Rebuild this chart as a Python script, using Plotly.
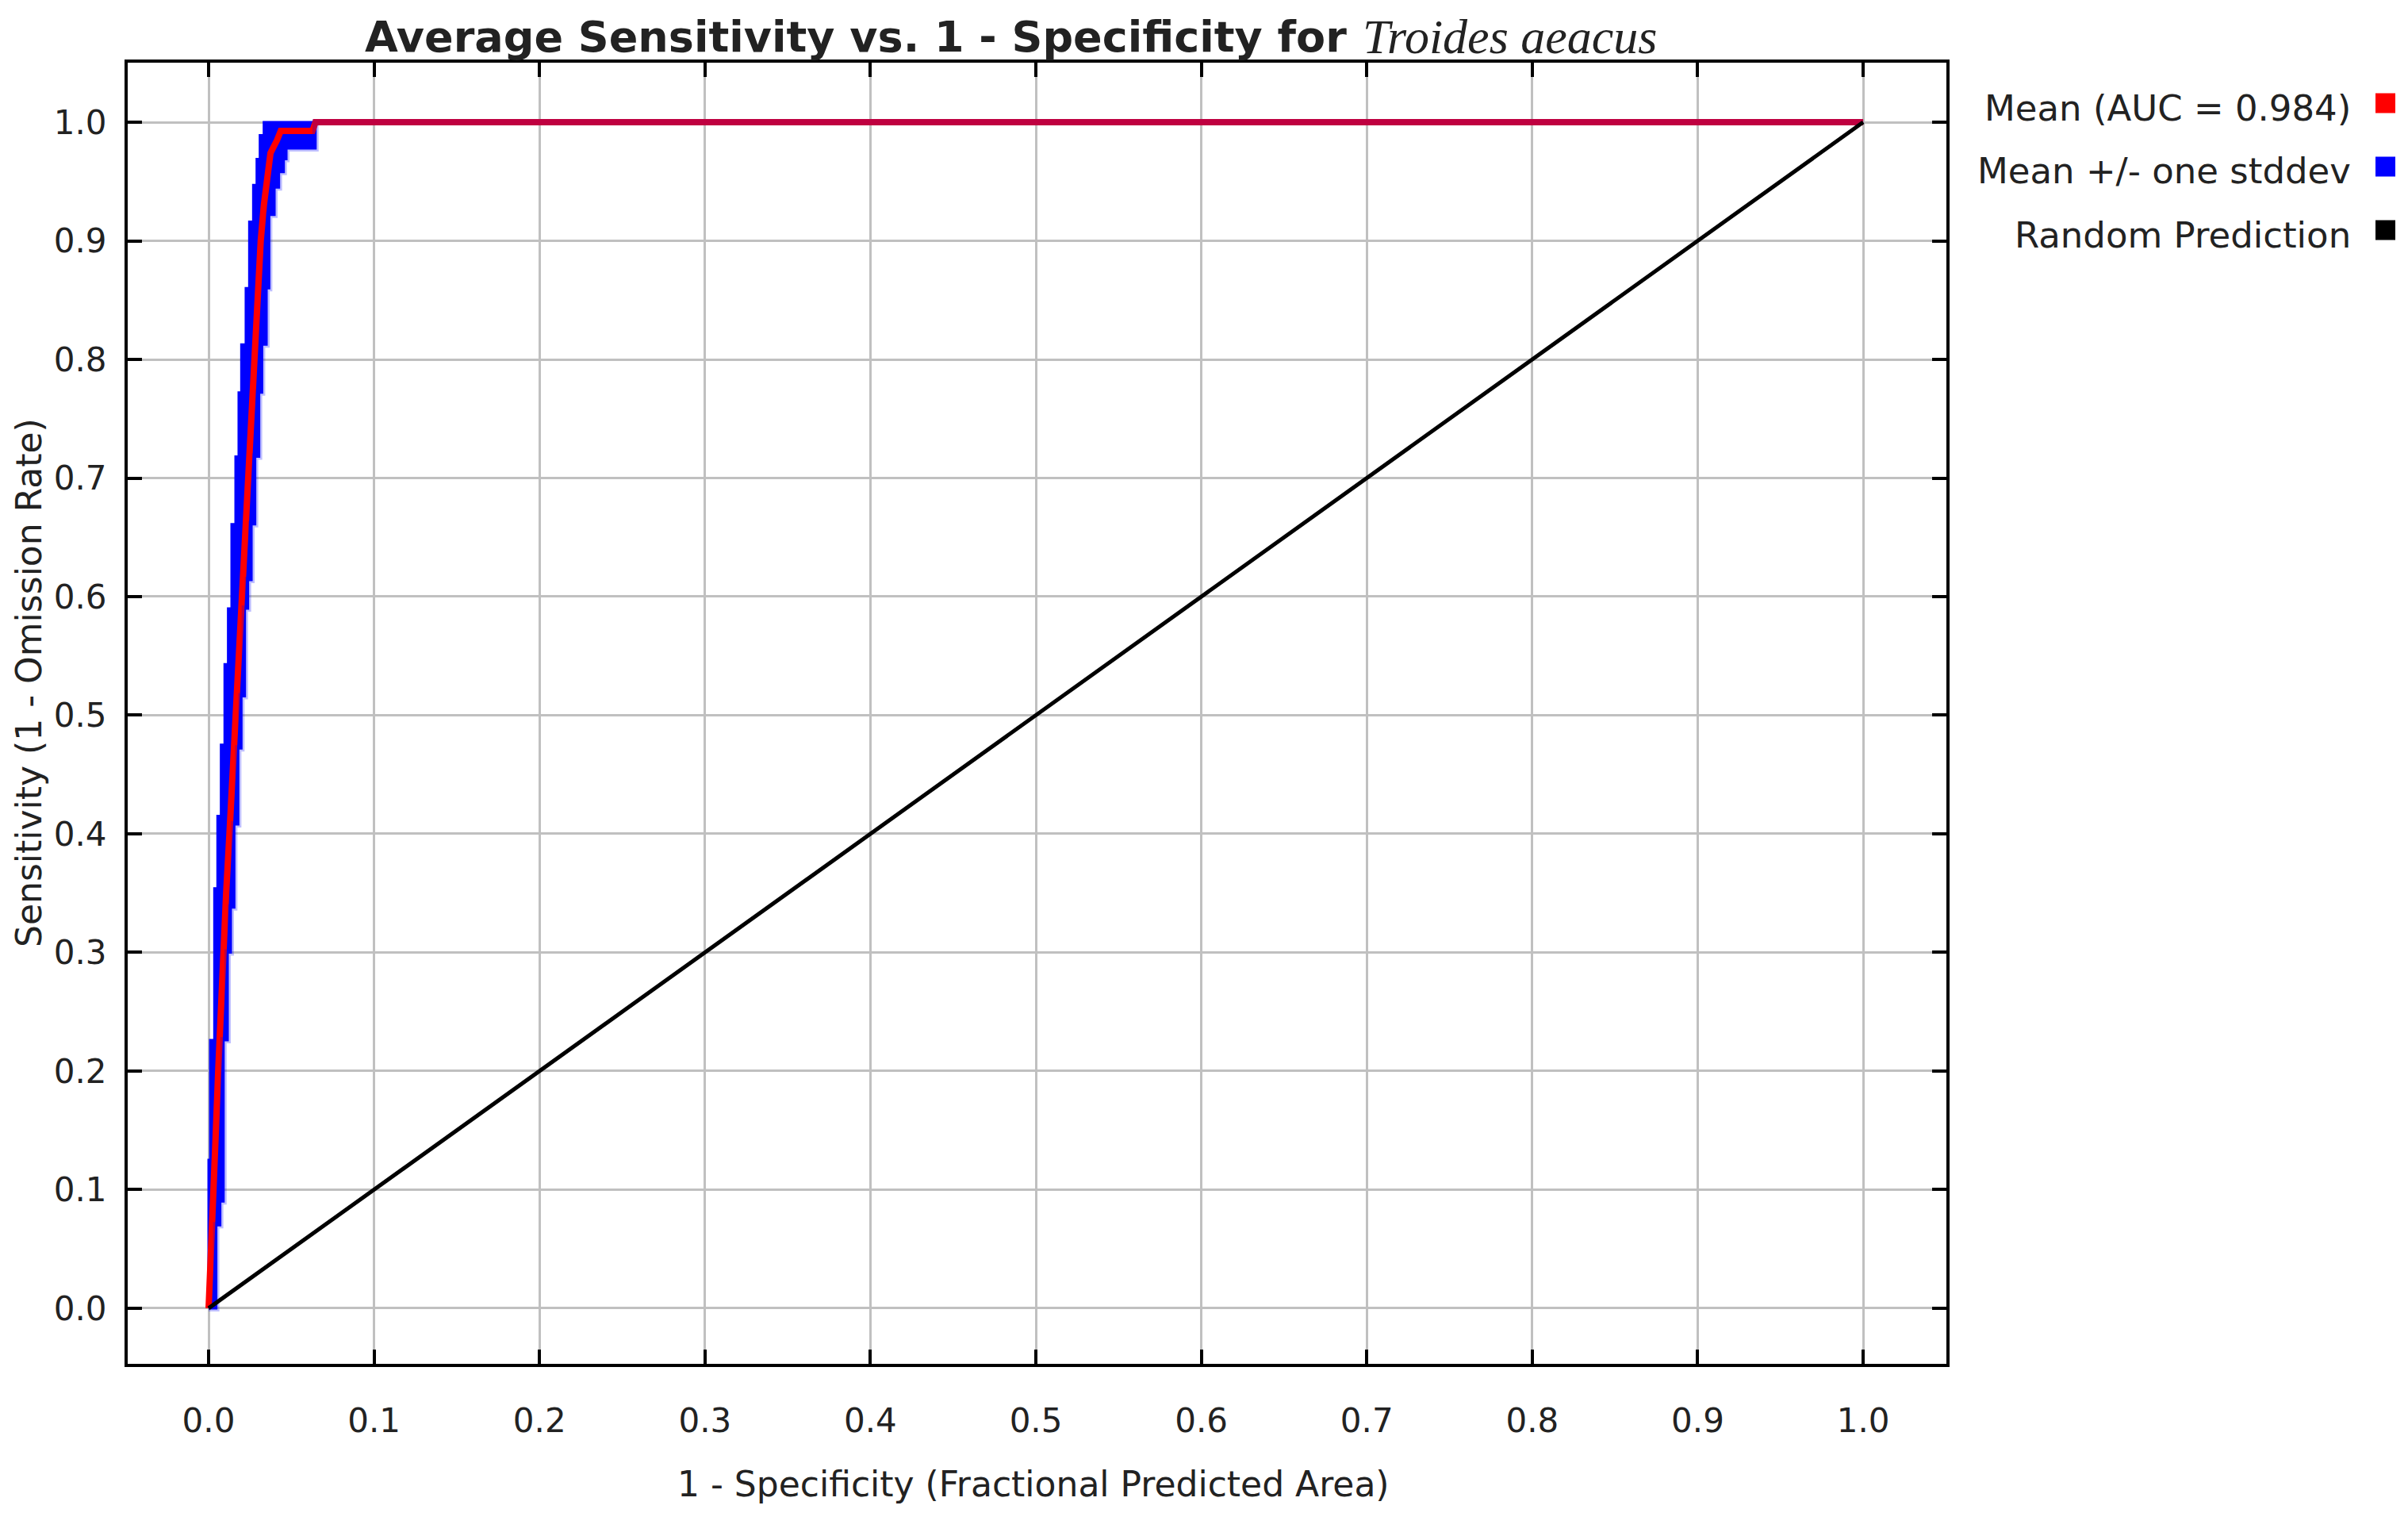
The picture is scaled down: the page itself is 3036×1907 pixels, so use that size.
import plotly.graph_objects as go

# The page body has an 8px margin; lay the figure out in window pixels
OFF = 8
W, H = 3036 - 2 * OFF, 1907 - 2 * OFF
# plot-area edges in window pixels
X_LEFT, X_RIGHT, Y_TOP, Y_BOTTOM = 161, 2454, 79, 1719
L = X_LEFT - OFF
T = Y_TOP - OFF
R = (OFF + W) - X_RIGHT
B = (OFF + H) - Y_BOTTOM

# ---- data ----
mean_x = [0.0, 0.0017, 0.0030, 0.0044, 0.0058, 0.0072, 0.0089, 0.0106, 0.0126, 0.0145,
          0.0163, 0.0179, 0.0198, 0.0217, 0.0238, 0.0254, 0.0270, 0.0289, 0.0315, 0.0334,
          0.0355, 0.0374, 0.0414, 0.0436, 0.0628, 0.0646, 1.0]
mean_y = [0.0, 0.05, 0.10, 0.15, 0.20, 0.25, 0.30, 0.35, 0.40, 0.45,
          0.50, 0.55, 0.60, 0.65, 0.70, 0.75, 0.80, 0.85, 0.90, 0.93,
          0.955, 0.974, 0.985, 0.9926, 0.9926, 1.0, 1.0]

upper_x = [0.0, 0.0010, 0.0035, 0.0054, 0.0075, 0.0097, 0.0118, 0.0139, 0.0163, 0.0182,
           0.0198, 0.0225, 0.0246, 0.0270, 0.0291, 0.0310, 0.0334, 1.0]
upper_y = [0.0, 0.125, 0.226, 0.354, 0.415, 0.475, 0.543, 0.590, 0.661, 0.718,
           0.772, 0.8125, 0.860, 0.916, 0.947, 0.969, 0.989, 1.0]

lower_x = [0.0, 0.0046, 0.0070, 0.0090, 0.0115, 0.0134, 0.0155, 0.0179, 0.0198, 0.0219,
           0.0238, 0.0259, 0.0281, 0.0305, 0.0323, 0.0350, 0.0366, 0.0398, 0.0425, 0.0454,
           0.0470, 0.0646, 1.0]
lower_y = [0.0, 0.0, 0.07, 0.09, 0.226, 0.300, 0.338, 0.408, 0.472, 0.516,
           0.590, 0.614, 0.661, 0.718, 0.772, 0.8125, 0.860, 0.922, 0.945, 0.958,
           0.969, 0.978, 1.0]

random_x = [0.0, 1.0]
random_y = [0.0, 1.0]

tick_vals = [0.0, 0.1, 0.2, 0.3, 0.4, 0.5, 0.6, 0.7, 0.8, 0.9, 1.0]

legend_labels = ["Mean (AUC = 0.984)", "Mean +/- one stddev", "Random Prediction"]
legend_colors = ["#ff0000", "#0000ff", "#000000"]

title_main = "Average Sensitivity vs. 1 - Specificity for"
title_species = "Troides aeacus"
x_title = "1 - Specificity (Fractional Predicted Area)"
y_title = "Sensitivity (1 - Omission Rate)"

FONT = "DejaVu Sans"
PW = X_RIGHT - X_LEFT
PH = Y_BOTTOM - Y_TOP


def px(xp):
    """window x pixel -> paper coordinate"""
    return (xp - X_LEFT) / PW


def py(yp):
    """window y pixel -> paper coordinate"""
    return (Y_BOTTOM - yp) / PH


fig = go.Figure()
fig.add_trace(go.Scatter(x=lower_x, y=lower_y, mode="lines",
                         line=dict(shape="vh", color="#0000ff", width=3),
                         showlegend=False, hoverinfo="skip"))
fig.add_trace(go.Scatter(x=upper_x, y=upper_y, mode="lines", fill="tonextx",
                         fillcolor="#0000ff",
                         line=dict(shape="vh", color="#0000ff", width=3),
                         showlegend=False, hoverinfo="skip"))
fig.add_trace(go.Scatter(x=mean_x, y=mean_y, mode="lines",
                         line=dict(color="#ff0000", width=8),
                         showlegend=False))
fig.add_trace(go.Scatter(x=lower_x, y=lower_y, mode="lines",
                         line=dict(shape="vh", color="rgba(0,0,255,0.25)", width=8),
                         showlegend=False, hoverinfo="skip"))
fig.add_trace(go.Scatter(x=random_x, y=random_y, mode="lines",
                         line=dict(color="#000000", width=5),
                         showlegend=False))

axis_common = dict(
    showgrid=True, gridcolor="#c0c0c0", gridwidth=3,
    zeroline=False,
    showline=True, linecolor="#000000", linewidth=4, mirror="allticks",
    ticks="inside", ticklen=18, tickwidth=4, tickcolor="#000000",
    tickvals=tick_vals, tickformat=".1f",
    tickfont=dict(family=FONT, size=42, color="#222222"),
)

fig.update_xaxes(range=[-0.0489, 1.0503], ticklabelstandoff=32, **axis_common)
fig.update_yaxes(range=[-0.0469, 1.0502], ticklabelstandoff=14, **axis_common)

annotations = [
    dict(text=title_main, x=px(1700), y=py(46), xref="paper", yref="paper",
         xanchor="right", yanchor="middle", showarrow=False,
         font=dict(family=FONT, size=54, color="#222222", weight="bold")),
    dict(text="<i>" + title_species + "</i>", x=px(1716), y=py(46),
         xref="paper", yref="paper",
         xanchor="left", yanchor="middle", showarrow=False,
         font=dict(family="Liberation Serif", size=62, color="#222222")),
    dict(text=x_title, x=px(1303), y=py(1870), xref="paper", yref="paper",
         xanchor="center", yanchor="middle", showarrow=False,
         font=dict(family=FONT, size=44, color="#222222")),
    dict(text=y_title, x=px(36), y=py(861), xref="paper", yref="paper",
         xanchor="center", yanchor="middle", textangle=-90, showarrow=False,
         font=dict(family=FONT, size=44, color="#222222")),
]

shapes = []
leg_text_y = [136, 216, 296]
leg_sq_y = [130, 210, 290]
for lab, col, ty, sy in zip(legend_labels, legend_colors, leg_text_y, leg_sq_y):
    annotations.append(dict(text=lab, x=px(2966), y=py(ty), xref="paper", yref="paper",
                            xanchor="right", yanchor="middle", showarrow=False,
                            font=dict(family=FONT, size=45, color="#222222")))
    shapes.append(dict(type="rect", xref="paper", yref="paper",
                       x0=px(2995), x1=px(3020), y0=py(sy + 12.5), y1=py(sy - 12.5),
                       fillcolor=col, line=dict(width=0)))

fig.update_layout(
    width=W, height=H,
    margin=dict(l=L, r=R, t=T, b=B, pad=0),
    paper_bgcolor="#ffffff", plot_bgcolor="#ffffff",
    showlegend=False,
    annotations=annotations,
    shapes=shapes,
)

fig.write_html("out.html")
